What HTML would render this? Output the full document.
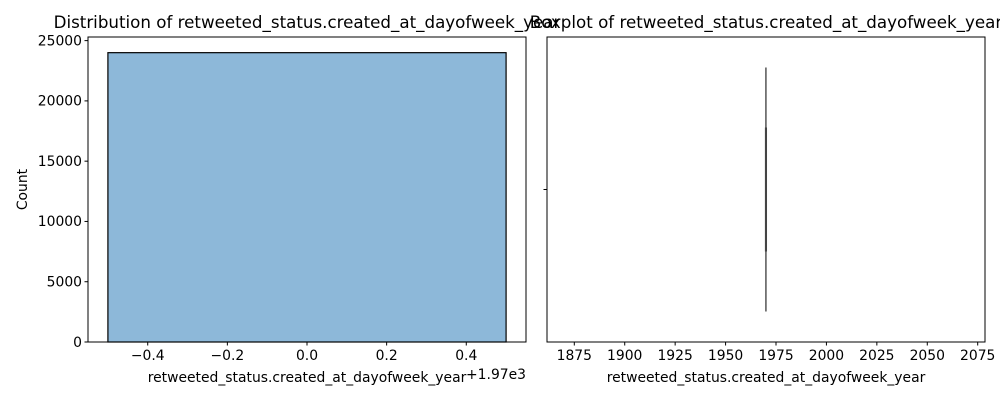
<!DOCTYPE html>
<html><head><meta charset="utf-8"><style>
html,body{margin:0;padding:0;background:#fff;}
svg{display:block;font-family:"DejaVu Sans","Liberation Sans",sans-serif;}
</style></head><body>
<svg id="c" width="1000" height="400" viewBox="0 0 1000 400" xmlns="http://www.w3.org/2000/svg">
<rect width="1000" height="400" fill="#fff"/>
</svg>
<script>
const histBinEdges=[-0.5,0.5];
const histCounts=[24000];
const histYTicks=[0,5000,10000,15000,20000,25000];
const histXTicks=[-0.4,-0.2,0.0,0.2,0.4];
const histXTickLabels=["\u22120.4","\u22120.2","0.0","0.2","0.4"];
const boxStats=[1970,1970,1970,1970,1970]; // min,q1,median,q3,max
const boxXTicks=[1875,1900,1925,1950,1975,2000,2025,2050,2075];

const NS="http://www.w3.org/2000/svg";
const svg=document.getElementById('c');
function el(t,a,p){const e=document.createElementNS(NS,t);for(const k in a)e.setAttribute(k,a[k]);(p||svg).appendChild(e);return e;}
function txt(s,a,p){const e=el('text',a,p);e.textContent=s;return e;}

const L={x0:88,x1:526,y0:37,y1:342};
const lx=v=>L.x0+(v-(-0.55))/(1.1)*(L.x1-L.x0);
const ly=v=>L.y1-v/25300*(L.y1-L.y0);
const gL=el('g',{});


for(let i=0;i<histCounts.length;i++){
  const r=el('rect',{x:lx(histBinEdges[i]),y:ly(histCounts[i]),width:lx(histBinEdges[i+1])-lx(histBinEdges[i]),height:ly(0)-ly(histCounts[i]),fill:'#8db8d9',stroke:'#000','stroke-width':1.2},gL);
  
  
}
const fr=el('rect',{x:L.x0,y:L.y0,width:L.x1-L.x0,height:L.y1-L.y0,fill:'none',stroke:'#000','stroke-width':1},gL);


histYTicks.forEach(v=>{
  el('line',{x1:L.x0-3.5,x2:L.x0,y1:ly(v),y2:ly(v),stroke:'#000'},gL);
  const t=txt(String(v),{x:L.x0-6,y:ly(v)+4.8,'text-anchor':'end','font-size':13.9},gL);
  
  
});
histXTicks.forEach((v,i)=>{
  el('line',{x1:lx(v),x2:lx(v),y1:L.y1,y2:L.y1+3.5,stroke:'#000'},gL);
  const t=txt(histXTickLabels[i],{x:lx(v),y:L.y1+18,'text-anchor':'middle','font-size':13.9},gL);
  
  
});
let t=txt('Count',{x:27,y:189.5,'text-anchor':'middle','font-size':13.9,transform:'rotate(-90 27 189.5)'},gL);


t=txt('retweeted_status.created_at_dayofweek_year',{x:307,y:382,'text-anchor':'middle','font-size':13.9},gL);


t=txt('+1.97e3',{x:526,y:379,'text-anchor':'end','font-size':13.9},gL);


t=txt('Distribution of retweeted_status.created_at_dayofweek_year',{x:307,y:28,'text-anchor':'middle','font-size':16.7},gL);



const R={x0:547,x1:985,y0:37,y1:342};
const rx=v=>574.3+(v-1875)*(977.7-574.3)/200;
const ry=v=>R.y1-(v+0.5)*(R.y1-R.y0);
const gR=el('g',{});


const fr2=el('rect',{x:R.x0,y:R.y0,width:R.x1-R.x0,height:R.y1-R.y0,fill:'none',stroke:'#000','stroke-width':1},gR);


el('line',{x1:R.x0-3.5,x2:R.x0,y1:ry(0),y2:ry(0),stroke:'#000'},gR);
const w=el('line',{x1:rx(boxStats[0]),x2:rx(boxStats[4]),y1:ry(0.4),y2:ry(-0.4),stroke:'#555','stroke-width':1.5},gR);


const b=el('rect',{x:rx(boxStats[1]),y:ry(0.2),width:Math.max(rx(boxStats[3])-rx(boxStats[1]),0.1),height:ry(-0.2)-ry(0.2),fill:'#8db8d9',stroke:'#444','stroke-width':2},gR);


boxXTicks.forEach(v=>{
  el('line',{x1:rx(v),x2:rx(v),y1:R.y1,y2:R.y1+3.5,stroke:'#000'},gR);
  const tt=txt(String(v),{x:rx(v),y:R.y1+18,'text-anchor':'middle','font-size':13.9},gR);
  
  
});
t=txt('retweeted_status.created_at_dayofweek_year',{x:766,y:382,'text-anchor':'middle','font-size':13.9},gR);


t=txt('Boxplot of retweeted_status.created_at_dayofweek_year',{x:766,y:28,'text-anchor':'middle','font-size':16.7},gR);


</script>
</body></html>
